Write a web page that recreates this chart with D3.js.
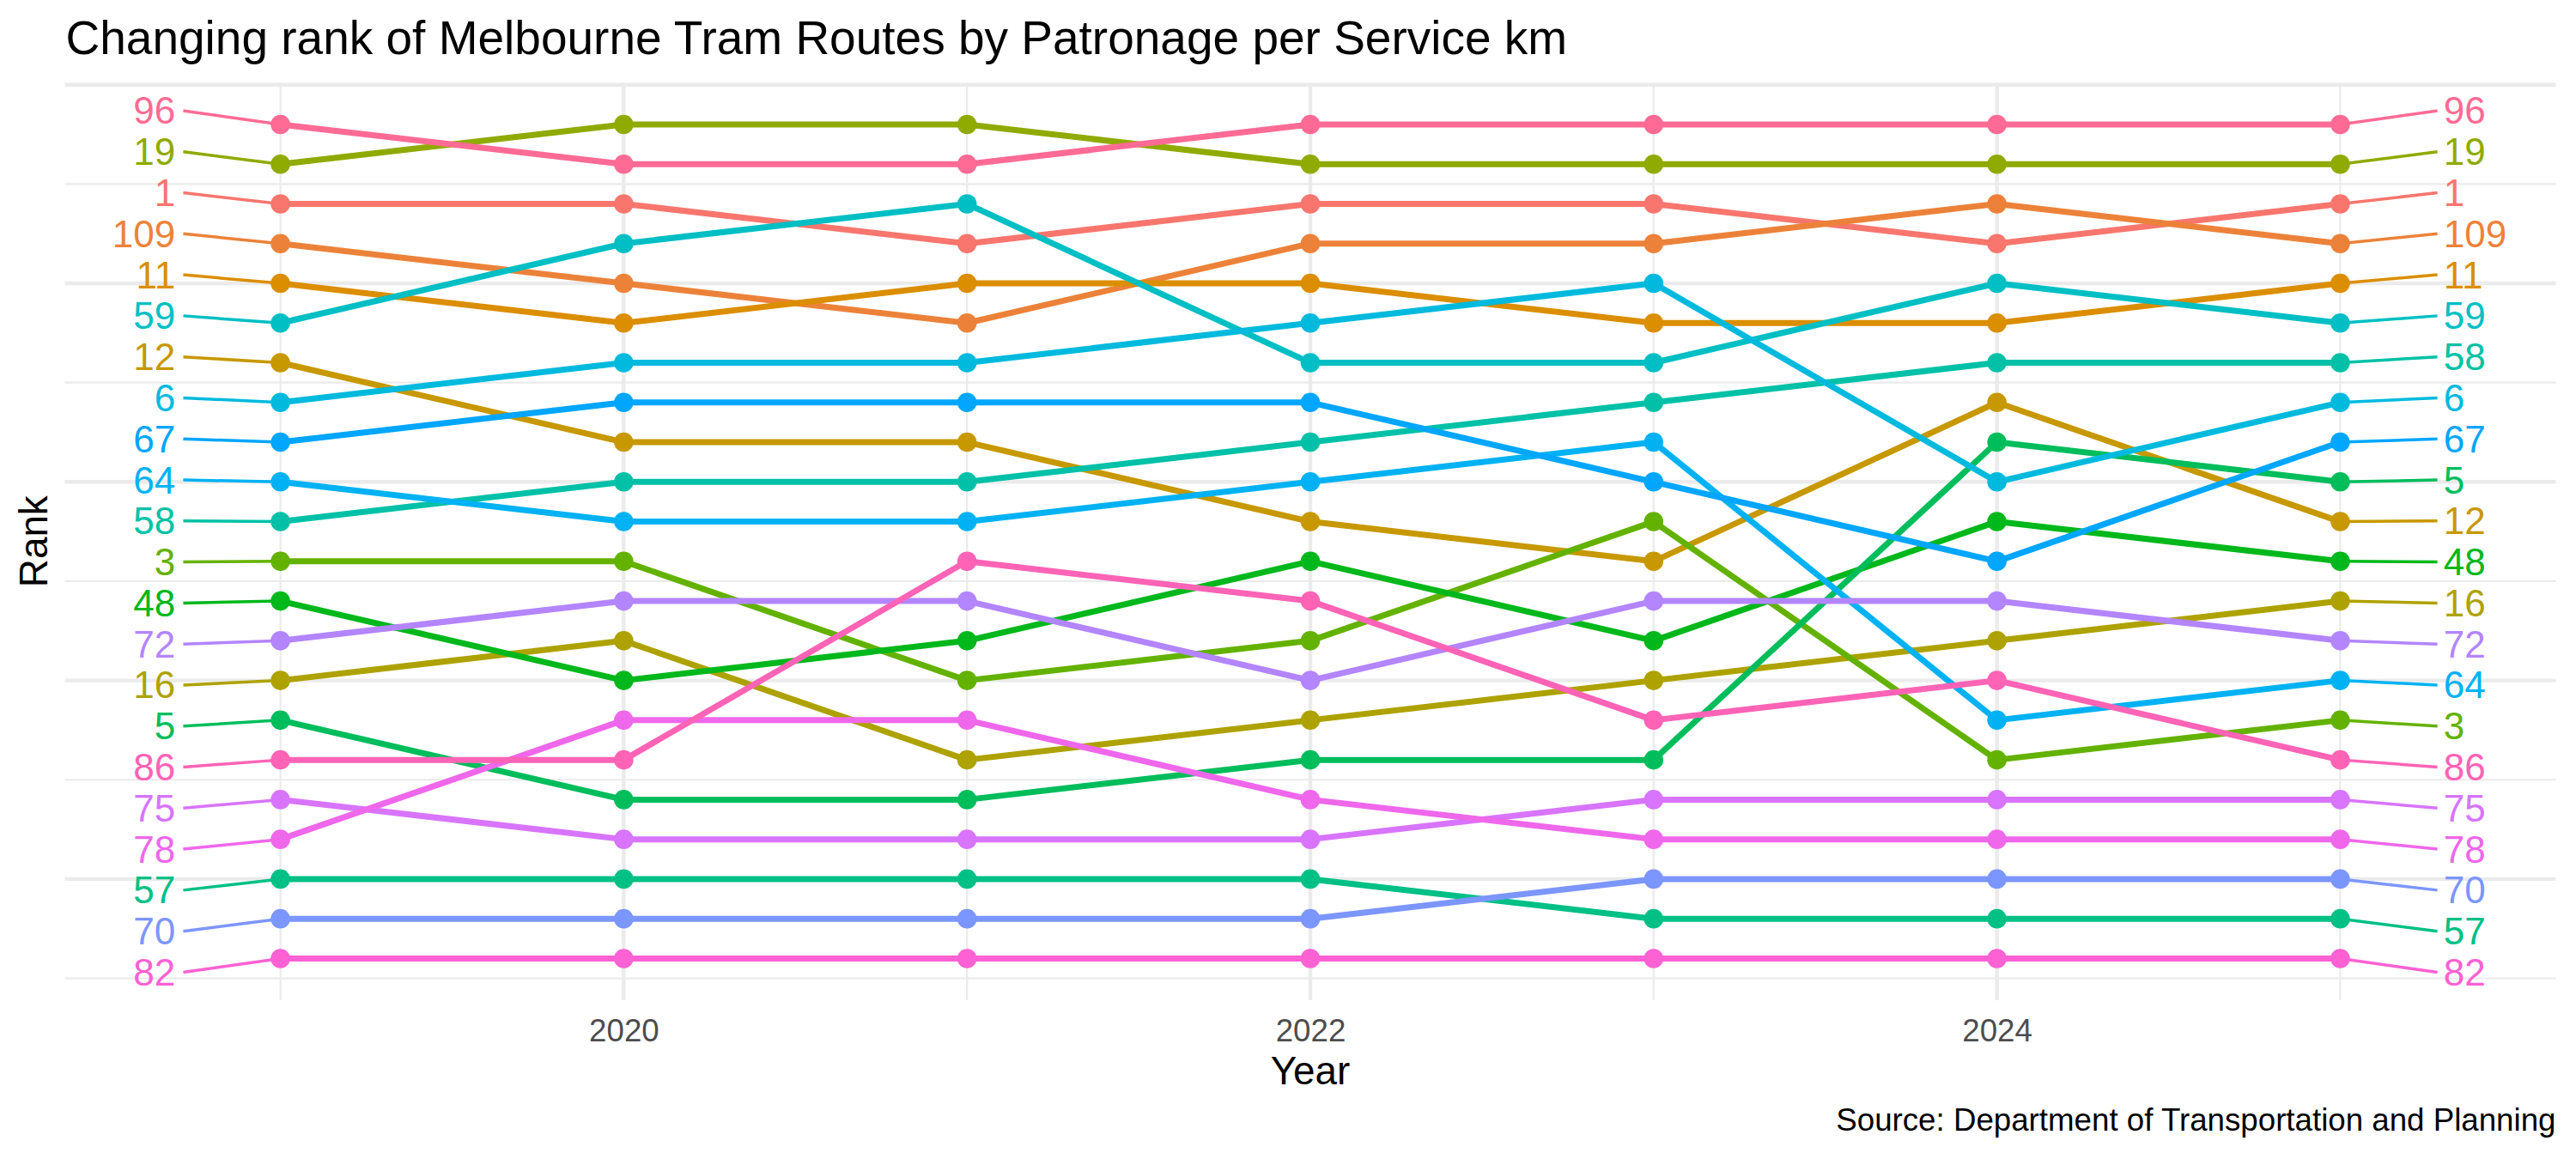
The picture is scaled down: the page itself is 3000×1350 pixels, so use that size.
<!DOCTYPE html>
<html>
<head>
<meta charset="utf-8">
<script src="https://cdn.jsdelivr.net/npm/d3@7"></script>
<style>
  body { margin: 0; background: #fff; }
  svg text { font-family: "Liberation Sans", Arial, sans-serif; }
</style>
</head>
<body>
<div id="chart-area"></div>
<script>
// data: rank of each route, 2019..2025
const years = [2019, 2020, 2021, 2022, 2023, 2024, 2025];
// factor order (alphabetical as strings) - this is what drives the hue palette
const routes = ["1", "109", "11", "12", "16", "19", "3", "48", "5", "57", "58",
                "59", "6", "64", "67", "70", "72", "75", "78", "82", "86", "96"];
const ranks = [
  [3, 3, 4, 3, 3, 4, 3],          // 1
  [4, 5, 6, 4, 4, 3, 4],          // 109
  [5, 6, 5, 5, 6, 6, 5],          // 11
  [7, 9, 9, 11, 12, 8, 11],       // 12
  [15, 14, 17, 16, 15, 14, 13],   // 16
  [2, 1, 1, 2, 2, 2, 2],          // 19
  [12, 12, 15, 14, 11, 17, 16],   // 3
  [13, 15, 14, 12, 14, 11, 12],   // 48
  [16, 18, 18, 17, 17, 9, 10],    // 5
  [20, 20, 20, 20, 21, 21, 21],   // 57
  [11, 10, 10, 9, 8, 7, 7],       // 58
  [6, 4, 3, 7, 7, 5, 6],          // 59
  [8, 7, 7, 6, 5, 10, 8],         // 6
  [10, 11, 11, 10, 9, 16, 15],    // 64
  [9, 8, 8, 8, 10, 12, 9],        // 67
  [21, 21, 21, 21, 20, 20, 20],   // 70
  [14, 13, 13, 15, 13, 13, 14],   // 72
  [18, 19, 19, 19, 18, 18, 18],   // 75
  [19, 16, 16, 18, 19, 19, 19],   // 78
  [22, 22, 22, 22, 22, 22, 22],   // 82
  [17, 17, 12, 13, 16, 15, 17],   // 86
  [1, 2, 2, 1, 1, 1, 1]           // 96
];
const xTicks = [2020, 2022, 2024];
const xMinor = [2019, 2021, 2023, 2025];
const yMajor = [0, 5, 10, 15, 20];
const yMinor = [2.5, 7.5, 12.5, 17.5, 22.5];

const titleText = "Changing rank of Melbourne Tram Routes by Patronage per Service km";
const captionText = "Source: Department of Transportation and Planning";

// canvas
const canvasWidth = 3000;
const canvasHeight = 1350;
const panel = {left: 75.5, right: 2976.5, top: 96.4, bottom: 1165};

// R style hcl() (polar LUV) -> hex, so the colours match ggplot's hue palette
function hclR(h, c, l) {
  const Xn = 95.047, Yn = 100.0, Zn = 108.883;
  const un = 4 * Xn / (Xn + 15 * Yn + 3 * Zn), vn = 9 * Yn / (Xn + 15 * Yn + 3 * Zn);
  const hr = h * Math.PI / 180;
  const U = c * Math.cos(hr), V = c * Math.sin(hr);
  const Y = Yn * (l > 7.999592 ? Math.pow((l + 16) / 116, 3) : l / 903.3);
  const u = U / (13 * l) + un, v = V / (13 * l) + vn;
  const X = 9 * Y * u / (4 * v);
  const Z = -X / 3 - 5 * Y + 3 * Y / v;
  const gam = t => t > 0.00304 ? 1.055 * Math.pow(t, 1 / 2.4) - 0.055 : 12.92 * t;
  let r = gam((3.240479 * X - 1.537150 * Y - 0.498535 * Z) / Yn);
  let g = gam((-0.969256 * X + 1.875992 * Y + 0.041556 * Z) / Yn);
  let b = gam((0.055648 * X - 0.204043 * Y + 1.057311 * Z) / Yn);
  const cl = t => Math.round(255 * Math.max(0, Math.min(1, t)));
  return d3.rgb(cl(r), cl(g), cl(b)).formatHex();
}
const hues = routes.map((d, i) => hclR(15 + i * 360 / routes.length, 100, 65));
const color = d3.scaleOrdinal().domain(routes).range(hues);

const svg = d3.select("#chart-area")
  .append("svg")
    .attr("width", canvasWidth)
    .attr("height", canvasHeight);

// scales
const x = d3.scaleLinear()
  .domain([2018.372, 2025.628])
  .range([panel.left, panel.right]);
const y = d3.scaleLinear()   // rank 1 at the top
  .domain([-0.05, 23.05])
  .range([panel.top, panel.bottom]);

// grid
const grid = svg.append("g").attr("class", "grid");
grid.selectAll("line.hmin").data(yMinor).enter().append("line")
  .attr("x1", panel.left).attr("x2", panel.right)
  .attr("y1", d => y(d)).attr("y2", d => y(d))
  .attr("stroke", "#EBEBEB").attr("stroke-width", 2.2);
grid.selectAll("line.vmin").data(xMinor).enter().append("line")
  .attr("y1", panel.top).attr("y2", panel.bottom)
  .attr("x1", d => x(d)).attr("x2", d => x(d))
  .attr("stroke", "#EBEBEB").attr("stroke-width", 2.2);
grid.selectAll("line.hmaj").data(yMajor).enter().append("line")
  .attr("x1", panel.left).attr("x2", panel.right)
  .attr("y1", d => y(d)).attr("y2", d => y(d))
  .attr("stroke", "#EBEBEB").attr("stroke-width", 4.4);
grid.selectAll("line.vmaj").data(xTicks).enter().append("line")
  .attr("y1", panel.top).attr("y2", panel.bottom)
  .attr("x1", d => x(d)).attr("x2", d => x(d))
  .attr("stroke", "#EBEBEB").attr("stroke-width", 4.4);

// x axis (no line, no ticks - minimal theme)
const xAxis = d3.axisBottom(x)
  .tickValues(xTicks)
  .tickFormat(d3.format("d"))
  .tickSize(0)
  .tickPadding(0);
const xAxisGroup = svg.append("g")
  .attr("class", "x-axis")
  .attr("transform", "translate(0," + panel.bottom + ")")
  .call(xAxis);
xAxisGroup.select(".domain").remove();
xAxisGroup.selectAll("text")
  .attr("y", 48)
  .attr("dy", null)
  .attr("font-size", "36.7px")
  .attr("fill", "#4D4D4D")
  .style("font-family", "'Liberation Sans', Arial, sans-serif");

// one row per route
const series = routes.map((r, i) => ({
  route: r,
  values: years.map((yr, j) => ({year: yr, rank: ranks[i][j]}))
}));

const line = d3.line()
  .x(d => x(d.year))
  .y(d => y(d.rank));

svg.append("g").attr("class", "lines")
  .selectAll("path").data(series).enter().append("path")
    .attr("d", d => line(d.values))
    .attr("fill", "none")
    .attr("stroke", d => color(d.route))
    .attr("stroke-width", 7)
    .attr("stroke-linejoin", "round");

const pts = svg.append("g").attr("class", "points");
series.forEach(s => {
  pts.selectAll(null).data(s.values).enter().append("circle")
    .attr("cx", d => x(d.year))
    .attr("cy", d => y(d.rank))
    .attr("r", 11.3)
    .attr("fill", color(s.route));
});

// end labels, spread a little like ggrepel does
const labelSpread = 1.033;
const labelRank = r => 11.5 + (r - 11.5) * labelSpread;
const firstYear = years[0], lastYear = years[years.length - 1];
const ends = [
  {idx: 0, yr: firstYear, seg: -0.283, txt: -0.306, anchor: "end"},
  {idx: years.length - 1, yr: lastYear, seg: 0.283, txt: 0.301, anchor: "start"}
];
const labels = svg.append("g").attr("class", "labels");
ends.forEach(e => {
  series.forEach(s => {
    const rk = s.values[e.idx].rank;
    labels.append("line")
      .attr("x1", x(e.yr + e.seg))
      .attr("y1", y(labelRank(rk)))
      .attr("x2", x(e.yr))
      .attr("y2", y(rk))
      .attr("stroke", color(s.route))
      .attr("stroke-width", 3.5);
    labels.append("text")
      .attr("x", x(e.yr + e.txt))
      .attr("y", y(labelRank(rk)))
      .attr("dominant-baseline", "central")
      .attr("text-anchor", e.anchor)
      .attr("font-size", "44px")
      .attr("fill", color(s.route))
      .text(s.route);
  });
});

// titles
svg.append("text")
  .attr("x", 76.5)
  .attr("y", 62.5)
  .attr("font-size", "55px")
  .attr("fill", "#000")
  .text(titleText);

svg.append("text")
  .attr("transform", "translate(55," + ((panel.top + panel.bottom) / 2) + ") rotate(-90)")
  .attr("text-anchor", "middle")
  .attr("font-size", "45.8px")
  .attr("fill", "#000")
  .text("Rank");

svg.append("text")
  .attr("x", (panel.left + panel.right) / 2)
  .attr("y", 1262.7)
  .attr("text-anchor", "middle")
  .attr("font-size", "45.8px")
  .attr("fill", "#000")
  .text("Year");

svg.append("text")
  .attr("x", panel.right)
  .attr("y", 1317)
  .attr("text-anchor", "end")
  .attr("font-size", "36.7px")
  .attr("fill", "#000")
  .text(captionText);
</script>
</body>
</html>
